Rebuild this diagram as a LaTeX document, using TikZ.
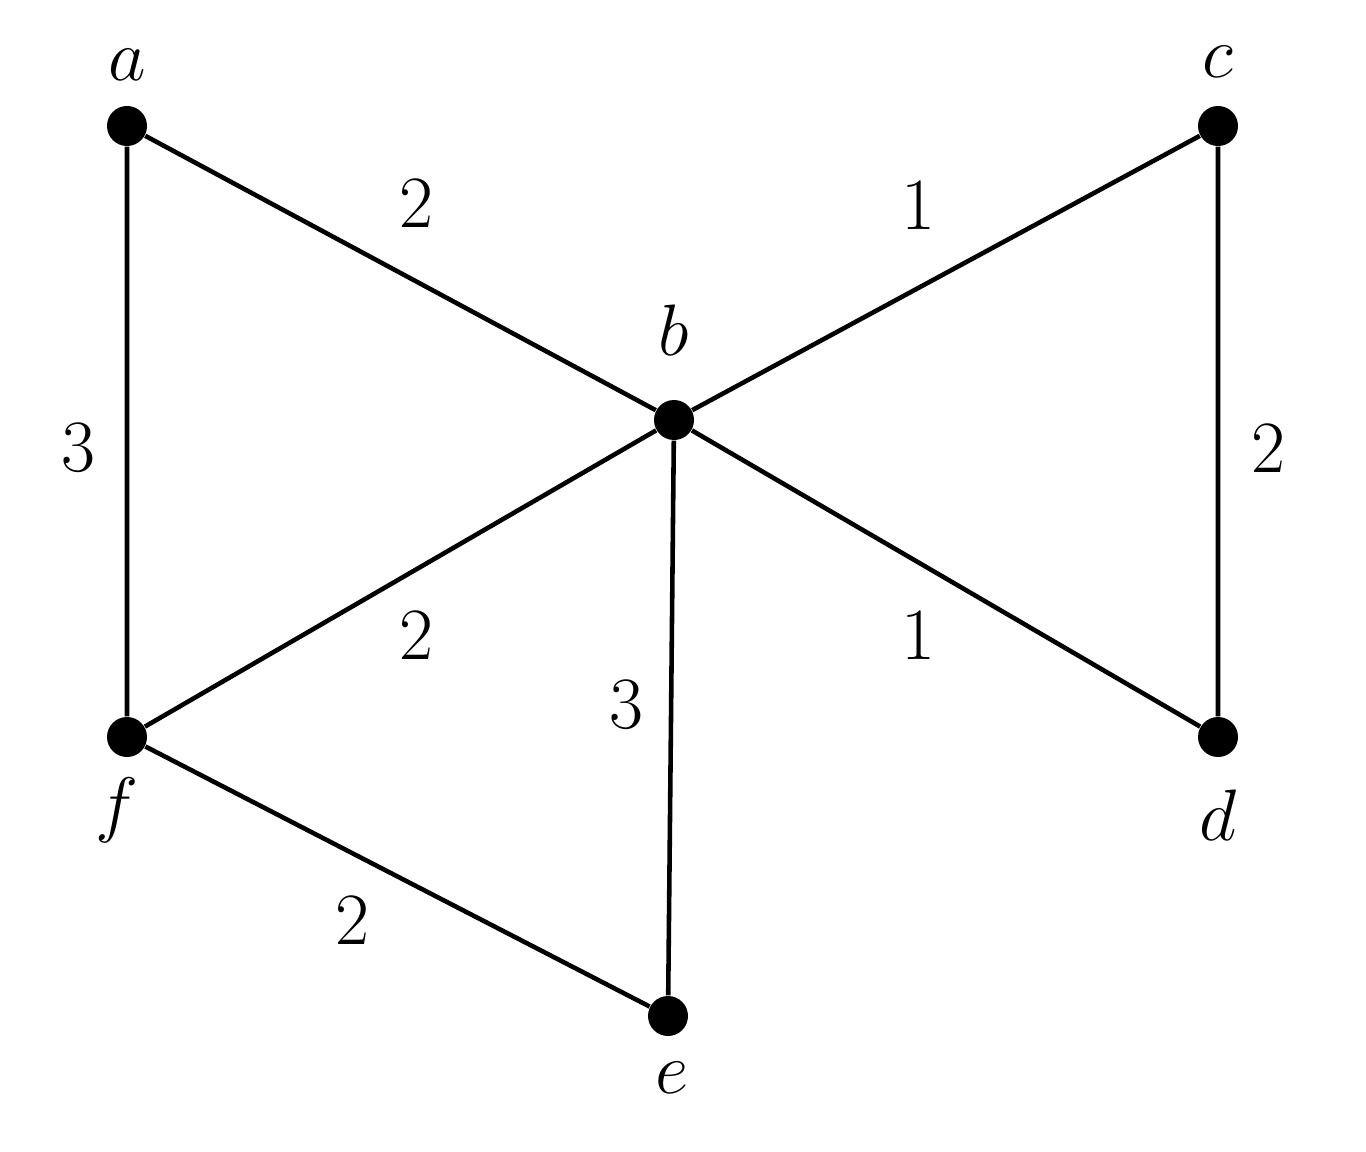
\documentclass[tikz,border=0pt]{standalone}
\usepackage{tikz}

\begin{document}
\begin{tikzpicture}[every node/.style={font=\fontsize{21}{25}\selectfont},
	vtx/.style={circle, fill=black, inner sep=0pt, minimum size=0.4cm},
	edge/.style={line width=1.3pt}]
	\useasboundingbox (0,0) rectangle (13.66,11.51);
	\node[vtx] (a) at (1.27,10.25) {};
	\node[vtx] (c) at (12.18,10.25) {};
	\node[vtx] (b) at (6.74,7.31) {};
	\node[vtx] (f) at (1.27,4.14) {};
	\node[vtx] (d) at (12.18,4.14) {};
	\node[vtx] (e) at (6.68,1.35) {};
	\draw[edge] (a) -- (b) -- (c) -- (d) -- (b) -- (f) -- (a);
	\draw[edge] (b) -- (e) -- (f);
	\node (la) at (1.27,10.86) {$a$};
	\node (lc) at (12.18,10.89) {$c$};
	\node (lb) at (6.74,8.21) {$b$};
	\node (lf) at (1.17,3.41) {$f$};
	\node (ld) at (12.18,3.36) {$d$};
	\node (le) at (6.72,0.73) {$e$};
	\node (wab) at (4.16,9.48) {2};
	\node (wbc) at (9.18,9.46) {1};
	\node (waf) at (0.78,7.03) {3};
	\node (wcd) at (12.68,7.03) {2};
	\node (wfb) at (4.16,5.16) {2};
	\node (wbd) at (9.18,5.16) {1};
	\node (wbe) at (6.26,4.46) {3};
	\node (wfe) at (3.52,2.31) {2};
\end{tikzpicture}
\end{document}
